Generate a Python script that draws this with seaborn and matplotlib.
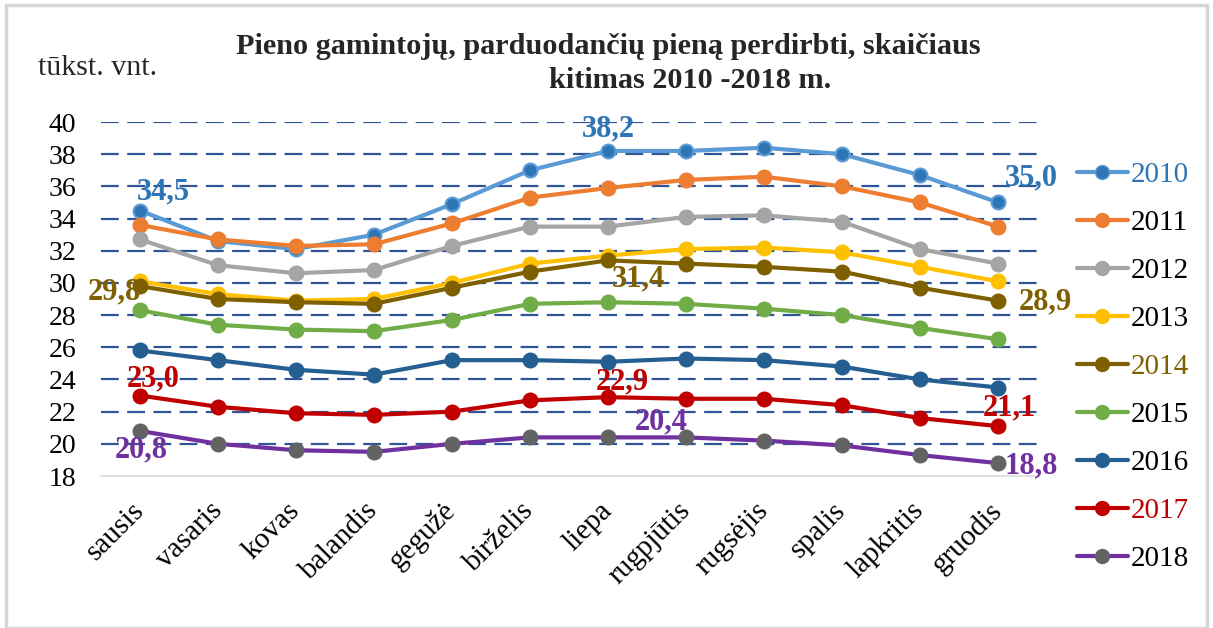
import matplotlib
matplotlib.use("Agg")
import matplotlib.pyplot as plt
import seaborn as sns
from matplotlib.lines import Line2D
from matplotlib.patches import Rectangle

months = ["sausis", "vasaris", "kovas", "balandis", "gegužė", "birželis",
          "liepa", "rugpjūtis", "rugsėjis", "spalis", "lapkritis", "gruodis"]
years = ["2010", "2011", "2012", "2013", "2014", "2015", "2016", "2017", "2018"]

v2010 = [34.5, 32.6, 32.1, 33.0, 34.9, 37.0, 38.2, 38.2, 38.4, 38.0, 36.7, 35.0]
v2011 = [33.6, 32.7, 32.3, 32.4, 33.7, 35.3, 35.9, 36.4, 36.6, 36.0, 35.0, 33.5]
v2012 = [32.7, 31.1, 30.6, 30.8, 32.3, 33.5, 33.5, 34.1, 34.2, 33.8, 32.1, 31.2]
v2013 = [30.1, 29.3, 28.9, 29.0, 30.0, 31.2, 31.7, 32.1, 32.2, 31.9, 31.0, 30.1]
v2014 = [29.8, 29.0, 28.8, 28.7, 29.7, 30.7, 31.4, 31.2, 31.0, 30.7, 29.7, 28.9]
v2015 = [28.3, 27.4, 27.1, 27.0, 27.7, 28.7, 28.8, 28.7, 28.4, 28.0, 27.2, 26.5]
v2016 = [25.8, 25.2, 24.6, 24.3, 25.2, 25.2, 25.1, 25.3, 25.2, 24.8, 24.0, 23.5]
v2017 = [23.0, 22.3, 21.9, 21.8, 22.0, 22.7, 22.9, 22.8, 22.8, 22.4, 21.6, 21.1]
v2018 = [20.8, 20.0, 19.6, 19.5, 20.0, 20.4, 20.4, 20.4, 20.2, 19.9, 19.3, 18.8]
values = [v2010, v2011, v2012, v2013, v2014, v2015, v2016, v2017, v2018]

line_colors = ["#5B9BD5", "#ED7D31", "#A5A5A5", "#FFC000", "#7F6000",
               "#70AD47", "#255E91", "#C00000", "#7030A0"]
marker_colors = ["#2E75B6", "#ED7D31", "#A5A5A5", "#FFC000", "#7F6000",
                 "#70AD47", "#255E91", "#C00000", "#636363"]
legend_text_colors = {"2010": "#2E75B6", "2014": "#7F6000", "2017": "#C00000"}

# labelled points: year -> list of (month index, pixel offset)
labels = {
    "2010": [(0, (23, 19)), (6, (0, 22)), (11, (33, 25))],
    "2014": [(0, (-26, -6)), (6, (30, -19)), (11, (47, -1))],
    "2017": [(0, (13, 17)), (6, (14, 15)), (11, (11, 18))],
    "2018": [(0, (1, -19)), (6, (53, 15)), (11, (33, -3))],
}
label_colors = {"2010": "#2E75B6", "2014": "#7F6000", "2017": "#C00000", "2018": "#7030A0"}

sns.set_theme(style="white")
plt.rcParams["font.family"] = ["Liberation Serif", "DejaVu Serif"]

fig = plt.figure(figsize=(12.13, 6.28), dpi=100)
ax = fig.add_axes([101 / 1213, 1 - 476 / 628, 936 / 1213, 354 / 628])

for i, yr in enumerate(years):
    sns.lineplot(x=months, y=values[i], ax=ax, sort=False, color=line_colors[i],
                 lw=3, marker="o", markersize=10, markerfacecolor=marker_colors[i],
                 markeredgecolor=line_colors[i] if i == 0 else marker_colors[i],
                 markeredgewidth=1.5, legend=False)

for yr, pts in labels.items():
    vals = values[years.index(yr)]
    for idx, off in pts:
        ax.annotate(f"{vals[idx]:.1f}".replace(".", ","), (idx, vals[idx]),
                    xytext=off, textcoords="offset pixels", ha="center", va="center",
                    fontsize=22, fontweight="bold", color=label_colors[yr])

ax.set_xlim(-0.5, 11.5)
ax.set_ylim(18, 40)
ax.set_yticks(range(18, 41, 2))
ax.set_axisbelow(True)
ax.grid(axis="y", color="#2F5597", lw=1.6, ls=(0, (8, 3.8)))
ax.yaxis.get_major_ticks()[0].gridline.set_visible(False)
sns.despine(ax=ax, left=True)
ax.spines["bottom"].set_color("#D9D9D9")
ax.spines["bottom"].set_linewidth(1.2)
ax.tick_params(axis="both", length=0, colors="black")
ax.tick_params(axis="y", pad=18, labelsize=20)
ax.tick_params(axis="x", pad=22, labelsize=21)
plt.setp(ax.get_xticklabels(), rotation=45, ha="right", va="center", rotation_mode="anchor")
ax.set_xlabel("")
ax.set_ylabel("")

handles = [Line2D([], [], color=line_colors[i], lw=3, marker="o", markersize=10,
                  markerfacecolor=marker_colors[i],
                  markeredgecolor=line_colors[i] if i == 0 else marker_colors[i])
           for i in range(len(years))]
leg = fig.legend(handles, years, loc="upper left", bbox_to_anchor=(1062 / 1213, 1 - 147 / 628),
                 frameon=False, fontsize=21, handlelength=1.75, handletextpad=0.1,
                 labelspacing=0.74, borderpad=0)
for t in leg.get_texts():
    t.set_color(legend_text_colors.get(t.get_text(), "black"))

fig.text(608 / 1213, 1 - 46 / 628, "Pieno gamintojų, parduodančių pieną perdirbti, skaičiaus",
         ha="center", va="center", fontsize=21.8, fontweight="bold")
fig.text(690 / 1213, 1 - 80 / 628, "kitimas 2010 -2018 m.",
         ha="center", va="center", fontsize=21.8, fontweight="bold")
fig.text(38 / 1213, 1 - 68 / 628, "tūkst. vnt.", ha="left", va="center", fontsize=21.5)

fig.patches.append(Rectangle((0.005, 0.0), 0.99, 0.992, transform=fig.transFigure,
                             fill=False, edgecolor="#D6D6D6", lw=2.5))

fig.savefig("out.png", dpi=100)
